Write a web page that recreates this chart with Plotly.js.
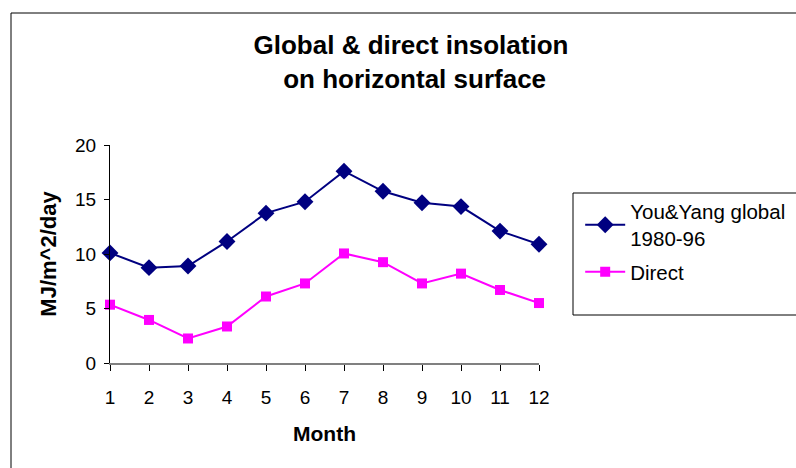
<!DOCTYPE html>
<html>
<head>
<meta charset="utf-8">
<script src="https://cdn.plot.ly/plotly-3.0.1.min.js"></script>
<style>
html,body{margin:0;padding:0;background:#fff;}
#chart{width:796px;height:468px;}
</style>
</head>
<body>
<div id="chart"></div>
<script>
var months = [1,2,3,4,5,6,7,8,9,10,11,12];
var globalVals = [10.1, 8.75, 8.9, 11.15, 13.75, 14.8, 17.6, 15.75, 14.7, 14.35, 12.1, 10.9];
var directVals = [5.35, 3.95, 2.25, 3.35, 6.1, 7.3, 10.05, 9.25, 7.3, 8.2, 6.7, 5.5];
var seriesNames = ["You&Yang global<br>1980-96", "Direct"];
var yTicks = [0,5,10,15,20];

var font = "Liberation Sans, Arial, sans-serif";

var traces = [
  {x: months, y: globalVals, name: seriesNames[0], type: "scatter", mode: "lines+markers", legendgroup: "g1",
   line: {color: "#000080", width: 2}, marker: {symbol: "diamond", size: 13, color: "#000080"}, cliponaxis: false},
  {x: months, y: directVals, name: seriesNames[1], type: "scatter", mode: "lines+markers", legendgroup: "g2",
   line: {color: "#FF00FF", width: 2}, marker: {symbol: "square", size: 10, color: "#FF00FF"}, cliponaxis: false}
];

var layout = {
  width: 796, height: 468,
  margin: {l: 110, r: 257, t: 145, b: 105, autoexpand: false},
  paper_bgcolor: "#fff", plot_bgcolor: "#fff",
  font: {family: font, color: "#000"},
  title: {text: "<b>Global & direct insolation<br> on horizontal surface</b>", font: {size: 26, family: font},
          x: 411/796, xref: "container", xanchor: "center", y: 0.8845, yanchor: "middle"},
  showlegend: true,
  legend: {x: 1.096, xanchor: "left", y: 0.786, yanchor: "top", bgcolor: "rgba(0,0,0,0)", borderwidth: 0,
           font: {size: 20.5, family: font}, traceorder: "grouped", tracegroupgap: 4, itemwidth: 40},
  xaxis: {range: [1,12], tickvals: months, ticktext: months.map(String), showgrid: false, zeroline: false,
          showline: true, linecolor: "#808080", linewidth: 2, ticks: "outside", ticklen: 6, tickcolor: "#000",
          tickfont: {size: 19, family: font}, ticklabelstandoff: 10,
          title: {text: "<b>Month</b>", font: {size: 21, family: font}, standoff: 20}},
  yaxis: {range: [0,20], tickvals: yTicks, showgrid: false, zeroline: false,
          showline: true, linecolor: "#000", linewidth: 1, ticks: "outside", ticklen: 5, tickcolor: "#000",
          tickfont: {size: 19, family: font}, ticklabelstandoff: 4,
          title: {text: "<b>MJ/m^2/day</b>", font: {size: 22, family: font}, standoff: 12}},
  shapes: [
    {type: "rect", xref: "paper", yref: "paper", x0: (11-110)/429, x1: (820-110)/429, y0: (363-490)/218, y1: (363-13)/218,
     line: {color: "#000", width: 1}, fillcolor: "rgba(0,0,0,0)", layer: "below"},
    {type: "rect", xref: "paper", yref: "paper", x0: (573-110)/429, x1: (820-110)/429, y0: (363-315)/218, y1: (363-193)/218,
     line: {color: "#000", width: 1}, fillcolor: "rgba(0,0,0,0)", layer: "below"}
  ]
};

Plotly.newPlot("chart", traces, layout, {staticPlot: true, displayModeBar: false});
</script>
</body>
</html>
